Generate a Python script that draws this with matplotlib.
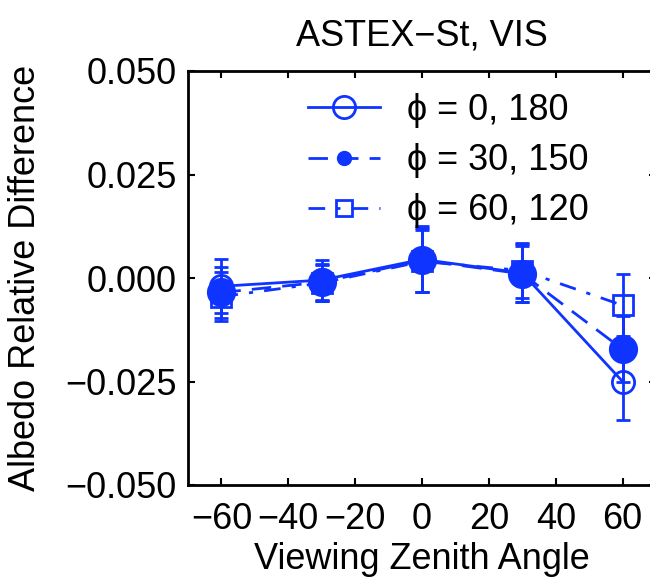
import matplotlib
matplotlib.use("Agg")
import matplotlib.pyplot as plt
from matplotlib.lines import Line2D
from matplotlib.ticker import FuncFormatter

plt.rcParams['font.family'] = ['Liberation Sans', 'DejaVu Sans']
plt.rcParams['axes.unicode_minus'] = True

# ---- данные ----
vza = [-60, -30, 0, 30, 60]
labels = ['ϕ = 0, 180', 'ϕ = 30, 150', 'ϕ = 60, 120']
y_0_180 = [-0.0020, -0.0005, 0.0045, 0.0012, -0.0250]
y_30_150 = [-0.0035, -0.0010, 0.0043, 0.0010, -0.0172]
y_60_120 = [-0.0045, -0.0012, 0.0040, 0.0018, -0.0066]
err_0_180 = [0.0065, 0.0048, 0.0080, 0.0070, 0.0093]
err_30_150 = [0.0062, 0.0045, 0.0078, 0.0068, 0.0080]
err_60_120 = [0.0060, 0.0044, 0.0075, 0.0066, 0.0075]

blue = '#0f34ff'
styles = [
    dict(ls='-', marker='o', mfc='none', ms=16, lms=16),
    dict(ls=(0, (7, 4)), marker='o', mfc=blue, ms=19, lms=9),
    dict(ls=(0, (6, 4, 1.5, 4)), marker='s', mfc='none', ms=14, lms=11),
]

fig = plt.figure(figsize=(6.5, 5.88), dpi=100)
ax = fig.add_axes([188 / 650, 1 - 485 / 588, 468 / 650, 414 / 588])

series = [(y_0_180, err_0_180), (y_30_150, err_30_150), (y_60_120, err_60_120)]
handles = []
for (ys, es), st, lab in zip(series, styles, labels):
    ax.errorbar(vza, ys, yerr=es, color=blue, ls=st['ls'], lw=2,
                marker=st['marker'], mfc=st['mfc'], mec=blue, mew=2,
                ms=st['ms'], capsize=5, elinewidth=2, capthick=2)
    handles.append(Line2D([], [], color=blue, ls=st['ls'], lw=2,
                          marker=st['marker'], mfc=st['mfc'], mec=blue,
                          mew=2, ms=st['lms']))

ax.set_xlim(-70, 70)
ax.set_ylim(-0.05, 0.05)
ax.set_xticks([-60, -40, -20, 0, 20, 40, 60])
ax.set_yticks([-0.05, -0.025, 0, 0.025, 0.05])
ax.yaxis.set_major_formatter(FuncFormatter(lambda v, p: f'{v:.3f}'.replace('-', '\u2212')))
ax.tick_params(direction='in', length=5, width=1.5, labelsize=26,
               top=True, right=True)
ax.tick_params(axis='x', pad=12)
ax.tick_params(axis='y', pad=8)
for sp in ax.spines.values():
    sp.set_linewidth(2)

ax.set_xlabel('Viewing Zenith Angle', fontsize=26, labelpad=4)
ax.set_ylabel('Albedo Relative Difference', fontsize=26, labelpad=16)
ax.set_title('ASTEX−St, VIS', fontsize=26, pad=18)

ax.legend(handles, labels, loc='upper left', frameon=False, fontsize=26,
          bbox_to_anchor=(308 / 650, 1 - 93 / 588), bbox_transform=fig.transFigure,
          borderpad=0, borderaxespad=0, handlelength=2.0, handletextpad=0.75,
          labelspacing=0.42)

fig.savefig('out.png', dpi=100)
